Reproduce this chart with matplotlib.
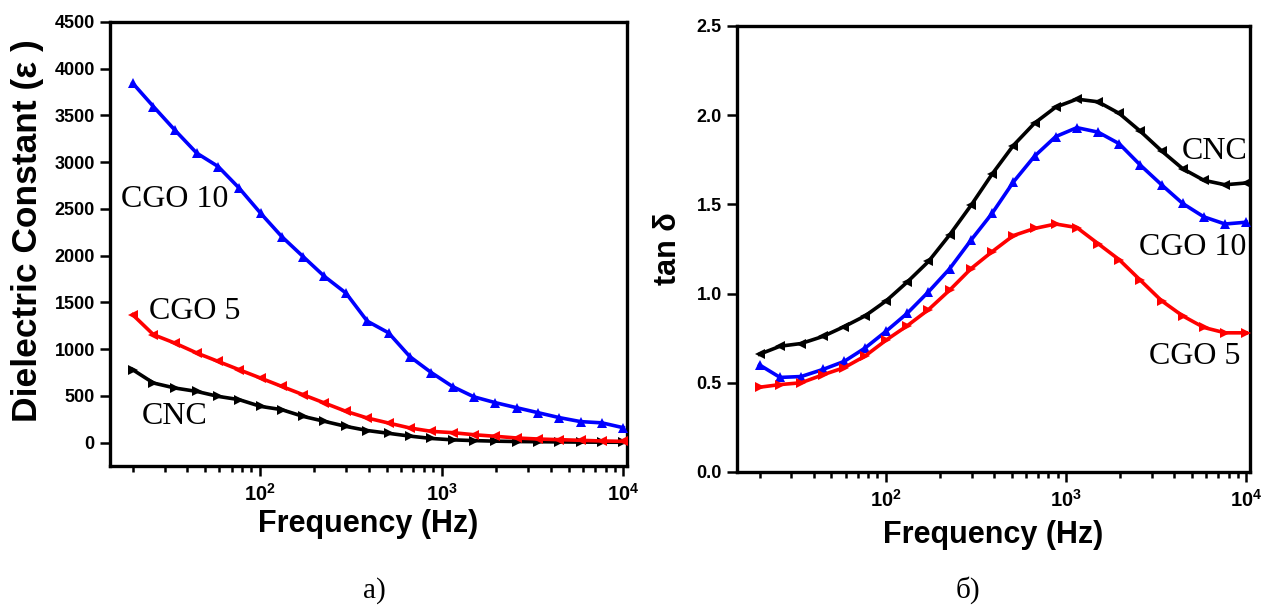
import numpy as np
import matplotlib.pyplot as plt
from matplotlib.ticker import NullFormatter, LogLocator

# measurement frequencies (Hz)
freq = [20, 26, 34, 45, 59, 77, 101, 132, 173, 227, 298, 390,
        511, 670, 878, 1151, 1508, 1976, 2588, 3392, 4444, 5824, 7632, 10000]

# a) dielectric constant
eps_cnc = [780, 638, 585, 548, 495, 460, 388, 353, 281, 228, 174, 130,
           100, 70, 45, 30, 22, 16, 12, 10, 8, 6, 5, 4]
eps_cgo5 = [1368, 1155, 1066, 959, 869, 780, 691, 602, 513, 424, 335, 264,
            210, 157, 121, 107, 85, 68, 50, 39, 32, 25, 18, 14]
eps_cgo10 = [3845, 3595, 3346, 3097, 2954, 2723, 2455, 2205, 1991, 1778, 1600, 1300,
             1175, 920, 750, 600, 490, 428, 374, 321, 268, 225, 212, 160]

# б) loss tangent
tan_cnc = [0.66, 0.705, 0.72, 0.76, 0.815, 0.875, 0.96, 1.065, 1.18, 1.33, 1.495, 1.67,
           1.83, 1.955, 2.045, 2.09, 2.075, 2.01, 1.91, 1.80, 1.70, 1.635, 1.61, 1.62]
tan_cgo10 = [0.60, 0.53, 0.535, 0.575, 0.62, 0.695, 0.79, 0.89, 1.01, 1.14, 1.30, 1.45,
             1.625, 1.77, 1.88, 1.93, 1.905, 1.84, 1.72, 1.61, 1.505, 1.43, 1.39, 1.40]
tan_cgo5 = [0.475, 0.49, 0.50, 0.545, 0.585, 0.65, 0.74, 0.82, 0.91, 1.02, 1.14, 1.235,
            1.325, 1.365, 1.39, 1.37, 1.28, 1.19, 1.075, 0.96, 0.875, 0.81, 0.78, 0.78]

xticks = [100, 1000, 10000]
xtick_labels = [r'$10^{2}$', r'$10^{3}$', r'$10^{4}$']

plt.rcParams['font.family'] = ['Liberation Sans', 'DejaVu Sans']
plt.rcParams['mathtext.fontset'] = 'custom'
plt.rcParams['mathtext.rm'] = 'Liberation Sans:bold'
plt.rcParams['mathtext.it'] = 'Liberation Sans:bold'
plt.rcParams['mathtext.bf'] = 'Liberation Sans:bold'

serif = ['Liberation Serif', 'DejaVu Serif']


def style_axes(ax):
    ax.set_xscale('log')
    ax.set_xlim(15, 10500)
    for side in ['top', 'right', 'left', 'bottom']:
        ax.spines[side].set_linewidth(2.4)
    ax.tick_params(which='both', direction='out', top=False, right=False,
                   width=1.8)
    ax.tick_params(which='major', length=7, pad=4)
    ax.tick_params(axis='y', which='major', labelsize=13)
    ax.tick_params(axis='x', which='major', labelsize=14.5, pad=5)
    ax.tick_params(which='minor', length=4)
    ax.xaxis.set_minor_locator(LogLocator(base=10, subs=np.arange(2, 10)))
    ax.xaxis.set_minor_formatter(NullFormatter())
    ax.set_xticks(xticks)
    ax.set_xticklabels(xtick_labels)
    for lab in ax.get_yticklabels():
        lab.set_fontweight('bold')
    ax.set_xlabel('Frequency (Hz)', fontsize=22, fontweight='bold')
    ax.xaxis.label.set_va('center')


def curve(ax, y, color, marker):
    ax.plot(freq, y, color=color, lw=2.6, marker=marker, ms=7,
            markeredgewidth=0, clip_on=False, zorder=3)


fig = plt.figure(figsize=(12.62, 6.14), dpi=100)

# panel a
ax1 = fig.add_axes([0.0872, 0.2410, 0.4097, 0.7232])
curve(ax1, eps_cnc, 'black', '>')
curve(ax1, eps_cgo10, '#0000ff', '^')
curve(ax1, eps_cgo5, '#ff0000', '<')
ax1.set_ylim(-250, 4500)
ax1.set_yticks(np.arange(0, 4501, 500))
style_axes(ax1)
ax1.set_ylabel('Dielectric Constant (ε )', fontsize=25.5, fontweight='bold')
ax1.yaxis.set_label_coords(-0.127, 0.53)
ax1.xaxis.set_label_coords(0.5, -0.13)
ax1.text(34, 2600, 'CGO 10', family=serif, fontsize=23, ha='center', va='center')
ax1.text(44, 1400, 'CGO 5', family=serif, fontsize=23, ha='center', va='center')
ax1.text(34, 280, 'CNC', family=serif, fontsize=23, ha='center', va='center')

# panel б
ax2 = fig.add_axes([0.584, 0.2313, 0.4065, 0.7264])
curve(ax2, tan_cnc, 'black', '<')
curve(ax2, tan_cgo10, '#0000ff', '^')
curve(ax2, tan_cgo5, '#ff0000', '>')
ax2.set_ylim(0, 2.5)
ax2.set_yticks(np.arange(0, 2.51, 0.5))
ax2.set_yticklabels(['%.1f' % v for v in np.arange(0, 2.51, 0.5)])
style_axes(ax2)
ax2.set_ylabel('tan δ', fontsize=22, fontweight='bold')
ax2.yaxis.set_label_coords(-0.105, 0.5)
ax2.xaxis.set_label_coords(0.5, -0.141)
ax2.text(6700, 1.795, 'CNC', family=serif, fontsize=23, ha='center', va='center')
ax2.text(5070, 1.257, 'CGO 10', family=serif, fontsize=23, ha='center', va='center')
ax2.text(5200, 0.65, 'CGO 5', family=serif, fontsize=23, ha='center', va='center')

fig.text(0.297, 0.039, 'a)', family=serif, fontsize=21, ha='center', va='center')
fig.text(0.767, 0.039, 'б)', family=serif, fontsize=21, ha='center', va='center')

fig.savefig('out.png', dpi=100)
